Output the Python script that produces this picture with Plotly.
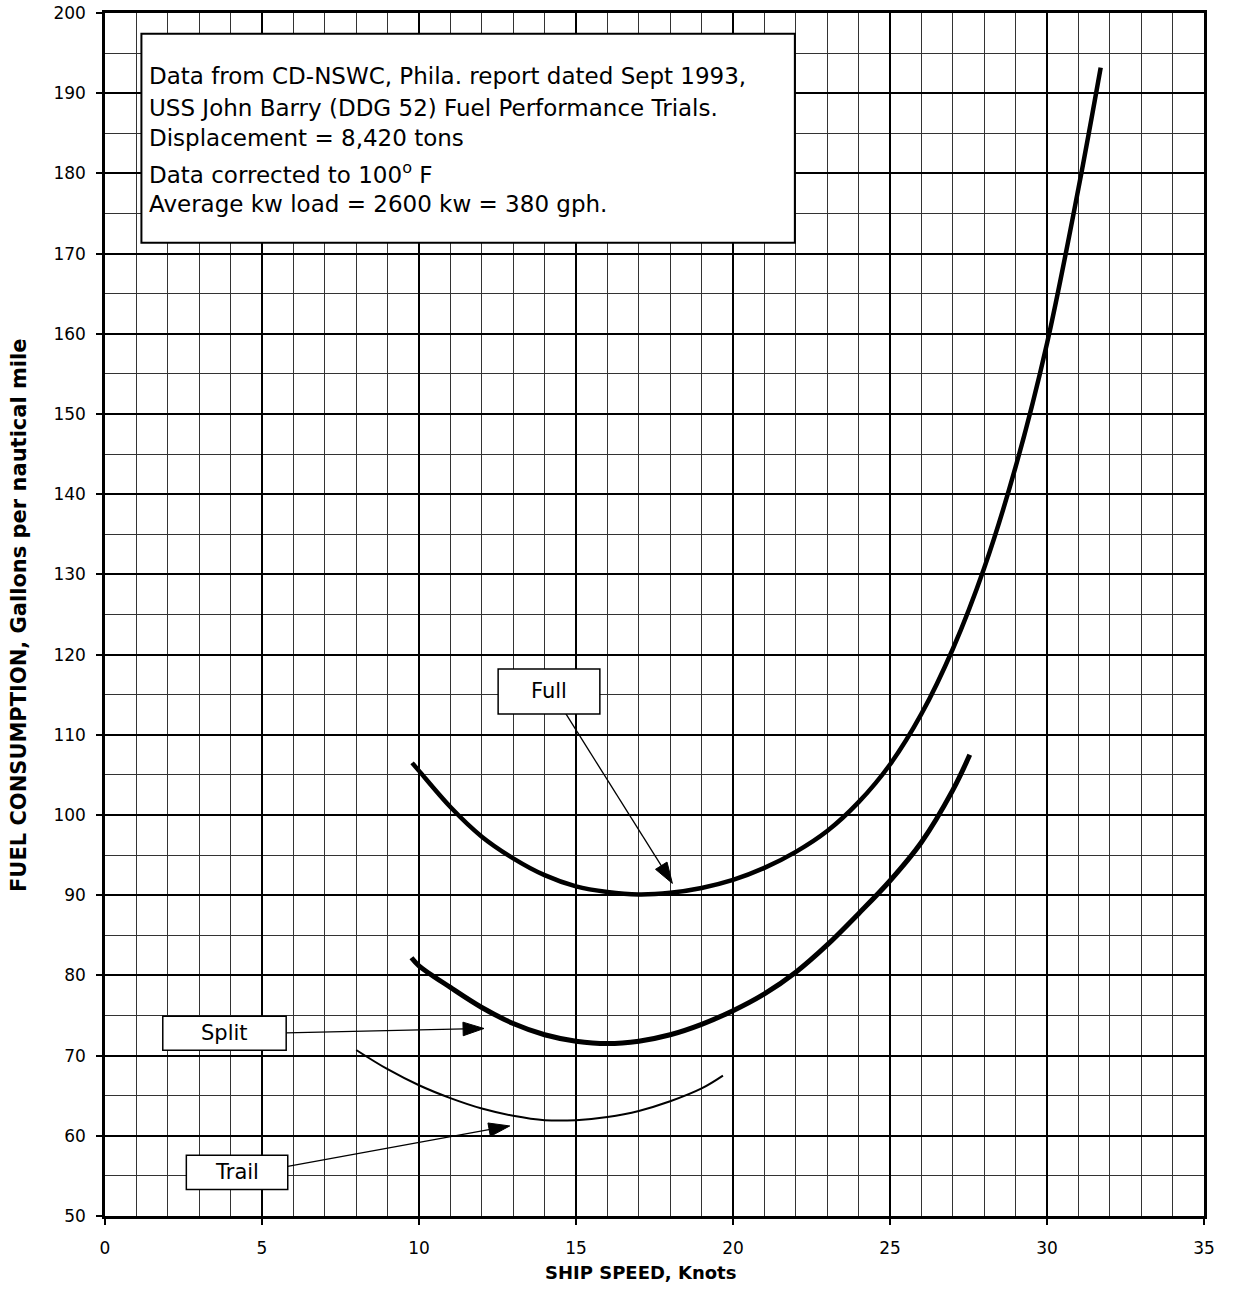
import plotly.graph_objects as go

# ---------------- data ----------------
full_speed = [9.78, 10, 11, 12, 13, 14, 15, 16, 17, 18, 19, 20, 21, 22, 23, 24, 25,
              26, 27, 28, 29, 30, 31, 31.71]
full_fuel = [106.5, 105.5, 101.0, 97.3, 94.6, 92.5, 91.1, 90.4, 90.1, 90.3, 90.9, 91.9,
             93.4, 95.4, 98.0, 101.6, 106.3, 112.6, 120.7, 130.8, 143.4, 158.8, 178.1, 193.2]

split_speed = [9.76, 10, 11, 12, 13, 14, 15, 16, 17, 18, 19, 20, 21, 22, 23, 24, 25,
               26, 27, 27.54]
split_fuel = [82.2, 81.2, 78.5, 76.0, 74.0, 72.6, 71.8, 71.5, 71.8, 72.6, 73.9, 75.6,
              77.7, 80.4, 83.8, 87.7, 91.8, 96.6, 103.1, 107.5]

trail_speed = [8.0, 9, 10, 11, 12, 13, 14, 15, 16, 17, 18, 19, 19.68]
trail_fuel = [70.7, 68.3, 66.3, 64.7, 63.4, 62.5, 61.95, 61.95, 62.35, 63.1, 64.3, 65.9, 67.5]

x_ticks = [0, 5, 10, 15, 20, 25, 30, 35]
y_ticks = [50, 60, 70, 80, 90, 100, 110, 120, 130, 140, 150, 160, 170, 180, 190, 200]

info_lines = [
    "Data from CD-NSWC, Phila. report dated Sept 1993,",
    "USS John Barry (DDG 52) Fuel Performance Trials.",
    "Displacement = 8,420 tons",
    "Data corrected to 100<sup>o</sup> F",
    "Average kw load = 2600 kw = 380 gph.",
]
series_names = ["Full", "Split", "Trail"]
x_title = "SHIP SPEED, Knots"
y_title = "FUEL CONSUMPTION, Gallons per nautical mile"

# ---------------- figure ----------------
FONT = "DejaVu Sans"
W, H = 1236, 1294
ML, MR, MT, MB = 105, 32, 13, 78
PW, PH = W - ML - MR, H - MT - MB


def px_to_paper(px, py):
    return (px - ML) / PW, 1 - (py - MT) / PH


fig = go.Figure()
fig.add_trace(go.Scatter(x=full_speed, y=full_fuel, mode="lines", name=series_names[0],
                         line=dict(color="black", width=4.5, shape="spline", smoothing=1.0)))
fig.add_trace(go.Scatter(x=split_speed, y=split_fuel, mode="lines", name=series_names[1],
                         line=dict(color="black", width=5, shape="spline", smoothing=1.0)))
fig.add_trace(go.Scatter(x=trail_speed, y=trail_fuel, mode="lines", name=series_names[2],
                         line=dict(color="black", width=2, shape="spline", smoothing=1.0)))

shapes = []
annotations = []

# info box
shapes.append(dict(type="rect", xref="x", yref="y", x0=1.16, x1=21.97, y0=171.36, y1=197.4,
                   fillcolor="white", line=dict(color="black", width=2), layer="above"))
info_y = [192.1, 188.15, 184.4, 180.05, 176.2]
for txt, yy in zip(info_lines, info_y):
    annotations.append(dict(x=1.33, y=yy, xref="x", yref="y", text=txt, showarrow=False,
                            xanchor="left", yanchor="middle",
                            font=dict(family=FONT, size=23, color="black")))

# label boxes
label_boxes = [
    (series_names[0], 12.52, 15.76, 112.6, 118.2),
    (series_names[1], 1.84, 5.77, 70.67, 74.9),
    (series_names[2], 2.59, 5.82, 53.3, 57.57),
]
for name, x0, x1, y0, y1 in label_boxes:
    shapes.append(dict(type="rect", xref="x", yref="y", x0=x0, x1=x1, y0=y0, y1=y1,
                       fillcolor="white", line=dict(color="black", width=1.5), layer="above"))
    annotations.append(dict(x=(x0 + x1) / 2, y=(y0 + y1) / 2, xref="x", yref="y", text=name,
                            showarrow=False, xanchor="center", yanchor="middle",
                            font=dict(family=FONT, size=21, color="black")))

# pointer arrows from the label boxes to the curves (tail -> tip)
arrows = [
    ((14.6, 113.1), (18.07, 91.47)),
    ((5.77, 72.83), (12.07, 73.38)),
    ((5.82, 56.2), (12.89, 61.23)),
]
for (tx, ty), (hx, hy) in arrows:
    fig.add_trace(go.Scatter(x=[tx, hx], y=[ty, hy], mode="lines+markers", hoverinfo="skip",
                             line=dict(color="black", width=1.3),
                             marker=dict(symbol="arrow", size=[0, 22], angleref="previous",
                                         color="black", opacity=1,
                                         line=dict(width=1, color="black"))))

# axis titles (placed in pixels)
xt_x, xt_y = px_to_paper(640, 1272)
annotations.append(dict(x=xt_x, y=xt_y, xref="paper", yref="paper", text=f"<b>{x_title}</b>",
                        showarrow=False, xanchor="center", yanchor="middle",
                        font=dict(family=FONT, size=18, color="black")))
yt_x, yt_y = px_to_paper(19, 615)
annotations.append(dict(x=yt_x, y=yt_y, xref="paper", yref="paper", text=f"<b>{y_title}</b>",
                        showarrow=False, xanchor="center", yanchor="middle", textangle=-90,
                        font=dict(family=FONT, size=21, color="black")))

fig.update_layout(
    width=W, height=H,
    margin=dict(l=ML, r=MR, t=MT, b=MB, pad=0),
    paper_bgcolor="white", plot_bgcolor="white",
    showlegend=False,
    shapes=shapes,
    annotations=annotations,
    font=dict(family=FONT, color="black", size=16),
)

common = dict(
    showgrid=True, gridcolor="black", gridwidth=2,
    showline=True, linecolor="black", linewidth=2.5, mirror=True,
    ticks="outside", ticklen=6, tickwidth=1.5, tickcolor="black",
    tickfont=dict(family=FONT, size=17, color="black"),
    zeroline=False, automargin=False,
)
fig.update_xaxes(range=[0, 35], tickvals=x_ticks, ticktext=[str(v) for v in x_ticks],
                 minor=dict(dtick=1, showgrid=True, gridcolor="#333333", gridwidth=1, ticks=""),
                 ticklabelstandoff=9, **common)
fig.update_yaxes(range=[50, 200], tickvals=y_ticks, ticktext=[str(v) for v in y_ticks],
                 minor=dict(dtick=5, showgrid=True, gridcolor="#333333", gridwidth=1, ticks=""),
                 ticklabelstandoff=7, **common)

fig.write_html("out.html", config={"displayModeBar": False},
               post_script="document.body.style.margin='0';")
